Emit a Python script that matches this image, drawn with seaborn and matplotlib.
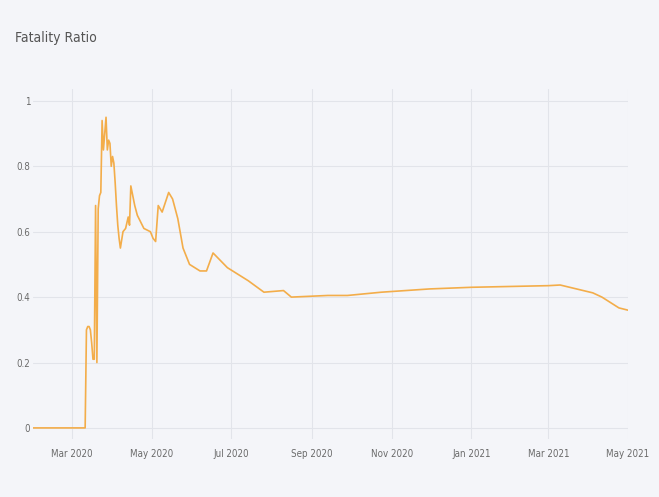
import pandas as pd
import seaborn as sns
import matplotlib.pyplot as plt
import matplotlib.dates as mdates

# values
dates = [
    "2020-01-31", "2020-03-11", "2020-03-12", "2020-03-13", "2020-03-14",
    "2020-03-15", "2020-03-16", "2020-03-17", "2020-03-18", "2020-03-19",
    "2020-03-20", "2020-03-21", "2020-03-22", "2020-03-23", "2020-03-24",
    "2020-03-25", "2020-03-26", "2020-03-27", "2020-03-28", "2020-03-29",
    "2020-03-30", "2020-03-31", "2020-04-01", "2020-04-02", "2020-04-03",
    "2020-04-04", "2020-04-05", "2020-04-06", "2020-04-07", "2020-04-09",
    "2020-04-11", "2020-04-13", "2020-04-14", "2020-04-15", "2020-04-17",
    "2020-04-18", "2020-04-20", "2020-04-25", "2020-04-30", "2020-05-02",
    "2020-05-04", "2020-05-06", "2020-05-09", "2020-05-14", "2020-05-17",
    "2020-05-21", "2020-05-25", "2020-05-30", "2020-06-07", "2020-06-12",
    "2020-06-17", "2020-06-28", "2020-07-14", "2020-07-26", "2020-08-10",
    "2020-08-16", "2020-09-13", "2020-09-28", "2020-10-24", "2020-11-30",
    "2021-01-01", "2021-03-01", "2021-03-10", "2021-04-04", "2021-04-11",
    "2021-04-24", "2021-05-01",
]
ratio = [
    0.0, 0.0, 0.30, 0.31, 0.31,
    0.30, 0.26, 0.21, 0.21, 0.68,
    0.20, 0.67, 0.71, 0.72, 0.94,
    0.85, 0.90, 0.95, 0.85, 0.88,
    0.87, 0.80, 0.83, 0.81, 0.75,
    0.68, 0.62, 0.58, 0.55, 0.60,
    0.61, 0.645, 0.62, 0.74, 0.70,
    0.68, 0.65, 0.61, 0.60, 0.58,
    0.57, 0.68, 0.66, 0.72, 0.70,
    0.64, 0.55, 0.50, 0.48, 0.48,
    0.535, 0.49, 0.45, 0.415, 0.42,
    0.40, 0.405, 0.405, 0.415, 0.425,
    0.43, 0.435, 0.437, 0.413, 0.40,
    0.367, 0.36,
]
y_ticks = [0, 0.2, 0.4, 0.6, 0.8, 1]
y_labels = ["0", "0.2", "0.4", "0.6", "0.8", "1"]

df = pd.DataFrame({"date": pd.to_datetime(dates), "ratio": ratio})

bg = "#f4f5f9"
grid = "#e2e4ea"
txt = "#6a6a6a"

sns.set_style("whitegrid")
plt.rcParams["font.family"] = ["DejaVu Sans"]
plt.rcParams["font.stretch"] = "condensed"

fig = plt.figure(figsize=(6.59, 4.97), dpi=100, facecolor=bg)
ax = fig.add_axes([0.050, 0.116, 0.903, 0.704])
ax.set_facecolor(bg)

sns.lineplot(data=df, x="date", y="ratio", ax=ax, color="#f3ad4a", linewidth=1.2)

ax.set_xlim(df["date"].min(), df["date"].max())
ax.set_ylim(-0.035, 1.035)
ax.set_yticks(y_ticks)
ax.set_yticklabels(y_labels)
ax.xaxis.set_major_locator(mdates.MonthLocator(bymonth=[1, 3, 5, 7, 9, 11]))
ax.xaxis.set_major_formatter(mdates.DateFormatter("%b %Y"))

ax.grid(True, color=grid, linewidth=0.8)
for s in ax.spines.values():
    s.set_visible(False)
ax.tick_params(axis="both", length=0, labelsize=7, colors=txt)
ax.tick_params(axis="x", pad=7)
ax.tick_params(axis="y", pad=2)
ax.set_xlabel("")
ax.set_ylabel("")

fig.text(15 / 659, 1 - 38 / 497, "Fatality Ratio", fontsize=10, color="#555555",
         va="center", ha="left")

fig.savefig("out.png", dpi=100, facecolor=bg)
